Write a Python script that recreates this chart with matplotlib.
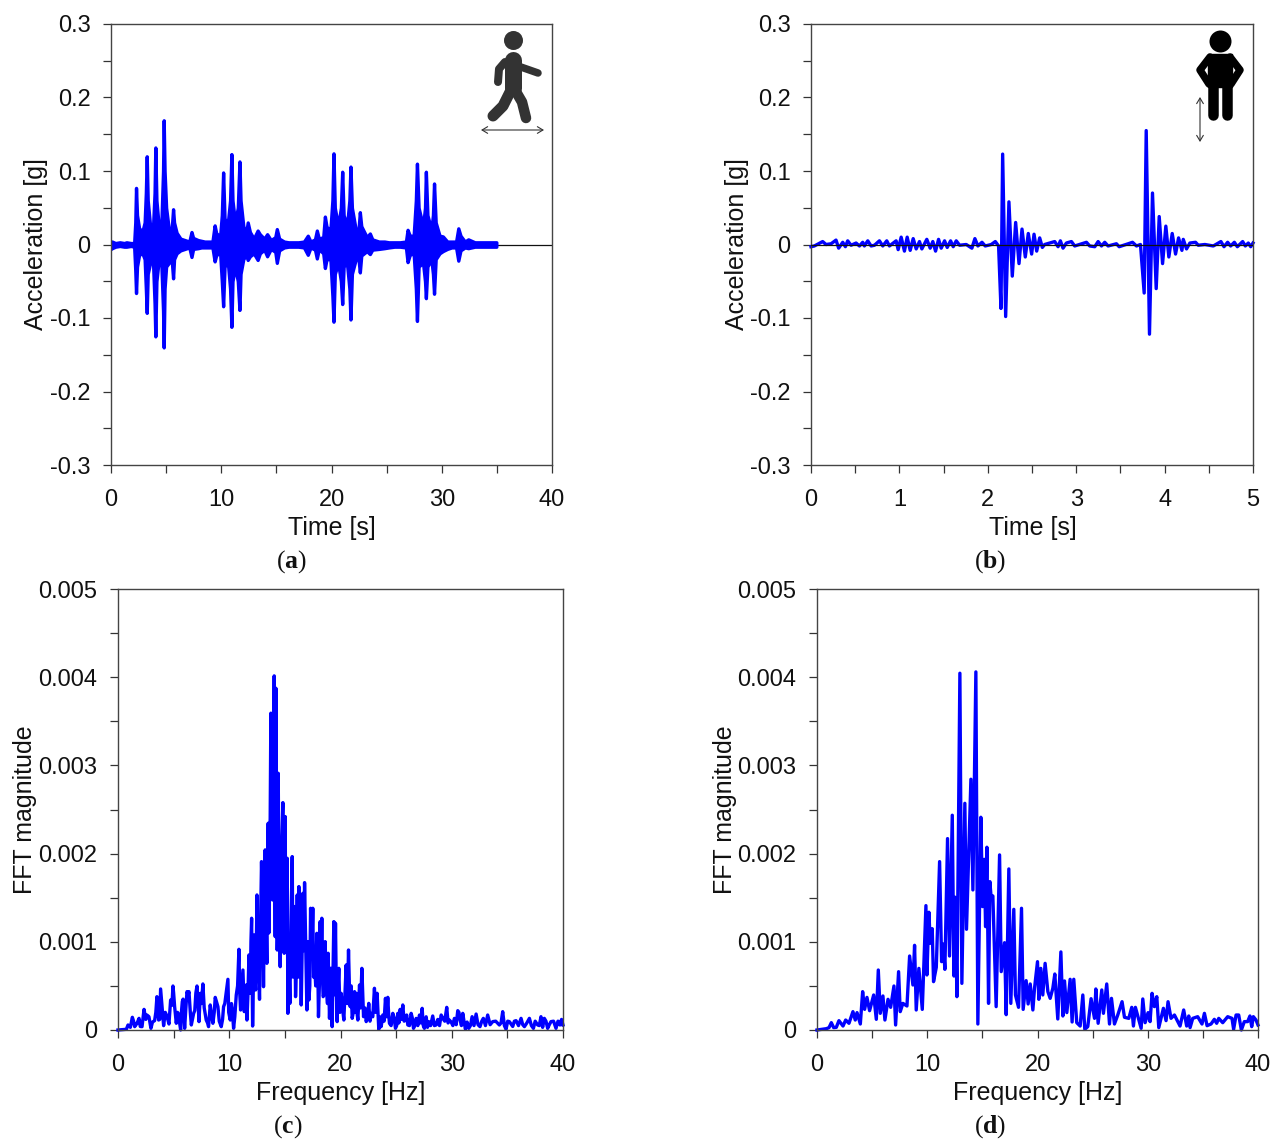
import numpy as np
import matplotlib
matplotlib.use("Agg")
import matplotlib.pyplot as plt
from matplotlib.lines import Line2D
from matplotlib.patches import Rectangle, FancyArrowPatch
from matplotlib.ticker import MultipleLocator, FuncFormatter

plt.rcParams['font.family'] = ['Liberation Sans', 'DejaVu Sans']
plt.rcParams['mathtext.fontset'] = 'custom'
plt.rcParams['mathtext.rm'] = 'Liberation Serif'
plt.rcParams['mathtext.bf'] = 'Liberation Serif:bold'

# (a) walking: envelope of the acceleration record
t_a = [0.0,0.1,0.4,0.8,1.2,1.4,1.8,2.1,2.2,2.27,2.36,2.55,2.85,3.05,3.16,3.24,3.33,3.55,3.8,3.95,4.02,4.12,4.3,4.55,4.72,4.78,4.86,5.0,5.25,5.5,5.63,5.72,5.95,6.3,6.7,7.1,7.3,7.45,7.9,8.2,8.5,8.9,9.2,9.4,9.55,9.9,10.05,10.17,10.3,10.6,10.8,10.92,11.02,11.25,11.5,11.65,11.75,12.0,12.25,12.4,12.6,12.95,13.3,13.5,13.9,14.16,14.5,14.9,15.04,15.25,15.7,16.1,16.6,17.0,17.5,17.85,18.1,18.5,18.67,18.85,19.25,19.4,19.55,19.9,20.08,20.18,20.3,20.6,20.85,20.97,21.1,21.4,21.62,21.72,21.85,22.2,22.45,22.57,22.7,23.2,23.48,23.7,24.3,24.8,25.2,25.7,26.2,26.75,26.9,27.1,27.45,27.65,27.75,27.9,28.3,28.48,28.56,28.7,29.05,29.2,29.3,29.45,29.8,30.1,30.5,30.9,31.3,31.5,31.7,32.1,32.4,33.0,33.5,34.0,34.5,34.95]
pos_a = [.004,.004,.002,.003,.002,.003,.002,.002,.03,.077,.04,.022,.018,.03,.07,.12,.06,.025,.02,.07,.132,.06,.03,.02,.1,.169,.1,.05,.02,.02,.048,.03,.016,.008,.006,.004,.017,.009,.006,.005,.004,.004,.004,.026,.015,.012,.04,.098,.035,.03,.06,.123,.06,.03,.05,.113,.06,.025,.015,.03,.017,.008,.019,.014,.008,.014,.006,.01,.021,.008,.004,.003,.003,.003,.004,.012,.004,.007,.019,.008,.01,.038,.024,.02,.06,.124,.05,.025,.05,.099,.04,.025,.06,.106,.05,.02,.02,.044,.025,.01,.015,.007,.004,.004,.003,.003,.003,.004,.02,.012,.012,.06,.11,.05,.025,.05,.099,.04,.02,.04,.083,.03,.012,.011,.004,.004,.004,.022,.012,.004,.007,.003,.003,.003,.003,.003]
neg_a = [-.006,-.005,-.003,-.002,-.003,-.003,-.002,-.003,-.035,-.066,-.03,-.014,-.012,-.02,-.06,-.093,-.04,-.025,-.02,-.08,-.125,-.05,-.025,-.02,-.09,-.14,-.06,-.03,-.025,-.02,-.046,-.02,-.012,-.008,-.006,-.004,-.017,-.006,-.005,-.004,-.004,-.004,-.004,-.023,-.014,-.012,-.05,-.084,-.03,-.025,-.06,-.112,-.05,-.03,-.05,-.089,-.04,-.02,-.014,-.021,-.016,-.012,-.021,-.012,-.007,-.016,-.006,-.01,-.025,-.008,-.004,-.003,-.003,-.003,-.004,-.014,-.004,-.007,-.019,-.006,-.012,-.032,-.02,-.02,-.07,-.105,-.04,-.025,-.05,-.081,-.03,-.025,-.06,-.102,-.04,-.02,-.02,-.038,-.015,-.009,-.013,-.007,-.006,-.005,-.004,-.003,-.003,-.004,-.024,-.014,-.012,-.06,-.104,-.03,-.025,-.05,-.073,-.03,-.02,-.04,-.067,-.02,-.012,-.009,-.006,-.004,-.004,-.022,-.008,-.004,-.005,-.003,-.003,-.003,-.003,-.003]

# (b) vertical jump
t_b = [0,.038,.132,.17,.227,.283,.313,.359,.389,.415,.453,.51,.548,.585,.604,.642,.68,.718,.774,.812,.857,.887,.963,.986,1.02,1.057,1.088,1.122,1.156,1.19,1.227,1.254,1.31,1.348,1.378,1.409,1.443,1.473,1.511,1.541,1.579,1.609,1.643,1.681,1.756,1.82,1.854,1.888,1.934,1.971,2.039,2.085,2.122,2.149,2.168,2.202,2.239,2.277,2.315,2.353,2.387,2.424,2.458,2.496,2.523,2.553,2.587,2.617,2.643,2.757,2.795,2.821,2.851,2.889,2.946,2.983,3.116,3.153,3.21,3.248,3.286,3.323,3.361,3.455,3.486,3.588,3.637,3.682,3.727,3.769,3.792,3.829,3.863,3.905,3.939,3.977,4.014,4.048,4.086,4.124,4.158,4.196,4.211,4.248,4.286,4.35,4.381,4.456,4.551,4.637,4.672,4.713,4.747,4.789,4.823,4.883,4.913,4.947,4.974,5.0]
acc_b = [-.003,-.002,.004,0,.001,.006,-.005,.003,-.003,.005,-.001,.002,-.002,.003,-.002,.005,-.002,-.001,.005,-.002,.005,-.002,.005,-.007,.010,-.009,.010,-.008,.008,-.006,.004,-.006,.007,-.005,.004,-.009,.007,-.005,.005,-.004,.005,-.003,.005,-.001,0,-.005,.008,-.002,.003,-.002,0,.004,-.002,-.087,.123,-.098,.058,-.043,.030,-.026,.021,-.017,.015,-.013,.014,-.009,.009,-.004,0,.004,-.003,.005,-.005,.002,.004,-.002,.003,-.002,-.003,.004,-.002,.003,-.002,.001,-.003,.001,.003,-.002,0,-.066,.155,-.122,.070,-.060,.038,-.026,.025,-.017,.015,-.013,.009,-.008,.007,-.006,.002,.003,-.001,0,-.002,.004,-.003,.003,-.002,.003,-.003,.004,-.002,.002,-.003,.002]

# (c) FFT of the walking record (main peaks and troughs)
f_c = [0,.75,.9,1.11,1.29,1.5,1.71,1.89,2.16,2.34,2.6,2.78,2.96,3.29,3.5,3.65,3.83,4.1,4.4,4.58,4.73,4.94,5.09,5.24,5.48,5.63,5.78,5.99,6.2,6.38,6.59,6.8,7.1,7.28,7.4,7.63,7.93,8.14,8.29,8.53,8.74,8.98,9.28,9.49,9.88,10.09,10.27,10.39,10.63,10.87,11.02,11.23,11.35,11.53,11.59,11.77,11.89,12.01,12.1,12.25,12.37,12.49,12.63,12.72,12.9,13.08,13.23,13.38,13.5,13.62,13.74,13.89,14.04,14.13,14.19,14.31,14.4,14.58,14.67,14.82,14.94,15.03,15.12,15.21,15.27,15.45,15.66,15.81,15.96,16.11,16.26,16.47,16.62,16.77,16.98,17.16,17.31,17.51,17.66,17.87,18.02,18.17,18.32,18.44,18.62,18.77,18.89,19.01,19.25,19.4,19.55,19.7,19.85,20.06,20.3,20.51,20.72,20.87,21.05,21.26,21.41,21.56,21.71,21.92,22.07,22.31,22.54,22.75,23.05,23.29,23.44,23.65,23.8,24.04,24.25,24.4,24.7,24.94,25.15,25.36,25.6,25.84,26.05,26.35,26.56,26.8,27.1,27.34,27.54,27.93,28.29,28.59,29.19,29.55,29.79,30.24,30.54,30.75,30.99,31.23,31.53,31.83,32.19,32.54,32.84,33.23,33.68,34.28,34.58,34.88,35.18,35.78,36.23,36.53,36.98,37.34,37.72,38.02,38.32,38.62,38.92,39.37,39.73,40]
mag_c = [0,.008,.057,.03,.144,.038,.076,.132,.038,.234,.17,.151,.019,.106,.378,.113,.465,.049,.159,.068,.34,.499,.265,.076,.17,0,.321,.019,.435,.435,.057,.189,.499,.095,.416,.522,.113,.038,.284,.076,.37,.265,.038,.265,.575,.113,.234,.019,.397,.915,.227,.68,.208,.51,.113,.851,.416,1.267,.045,1.078,.454,1.531,.794,.348,1.909,.491,2.042,.756,2.344,2.117,3.592,1.474,4.015,1.059,3.875,.907,2.911,.718,1.966,2.578,.87,2.42,1.399,1.947,.189,.302,1.966,.643,.378,1.531,1.626,.284,1.55,1.671,.227,.34,1.38,1.38,.794,1.096,.151,1.229,1.267,.378,1.002,.416,.87,.132,.038,1.229,1.21,.095,.699,.416,.113,.737,.907,.265,.132,.435,.416,.113,.51,.699,.151,.095,.302,.189,.473,.416,.008,.038,.17,.359,.37,.076,.189,.019,.189,.234,.284,.113,.057,.189,.019,.132,.17,.246,.019,.095,.159,.057,.132,.257,.113,.132,.219,.113,.189,.008,.019,.151,.181,.038,.132,.17,.095,.057,.208,.008,.095,.106,.132,.038,.132,.019,.057,.151,.132,.019,.095,.019,.057,.057]
# (c) smaller oscillations between them
f_c_fine = [1.4,2.0,2.5,3.1,3.4,3.75,4.25,4.85,5.0,5.35,5.55,5.7,5.85,6.1,6.3,6.5,6.9,7.0,7.2,7.5,7.75,8.05,8.4,8.65,8.85,9.1,9.4,9.6,9.75,9.95,10.2,10.5,10.75,10.95,11.15,11.45,11.68,11.95,12.18,12.3,12.43,12.56,12.8,13.0,13.15,13.3,13.44,13.56,13.68,13.8,13.95,14.08,14.25,14.35,14.48,14.62,14.72,14.88,14.98,15.08,15.18,15.35,15.55,15.73,15.88,16.03,16.2,16.37,16.55,16.7,16.88,17.07,17.24,17.42,17.58,17.77,17.95,18.1,18.25,18.38,18.53,18.7,18.83,18.95,19.13,19.32,19.47,19.62,19.78,19.95,20.18,20.4,20.62,20.8,20.96,21.15,21.33,21.48,21.63,21.8,22.0,22.2,22.43,22.65,22.9,23.17,23.37,23.55,23.72,23.92,24.15,24.32,24.55,24.82,25.05,25.25,25.48,25.72,25.95,26.2,26.45,26.68,26.95,27.22,27.44,27.7,27.82,28.1,28.44,28.75,28.9,29.05,29.37,29.67,29.95,30.1,30.4,30.65,30.87,31.1,31.38,31.68,32.0,32.36,32.7,33.03,33.45,33.95,34.43,34.73,35.03,35.48,35.63,36.0,36.38,36.75,37.16,37.5,37.87,38.17,38.47,38.77,39.15,39.55,39.87]
mag_c_fine = [.1,.04,.12,.09,.2,.12,.2,.28,.42,.2,.07,.2,.35,.25,.4,.2,.22,.42,.3,.3,.25,.08,.18,.2,.32,.1,.12,.3,.45,.2,.3,.15,.5,.4,.5,.3,.4,1.0,.6,.6,.9,1.0,1.1,1.3,1.3,1.3,1.6,1.1,2.4,1.5,1.9,2.5,2.0,1.2,1.5,1.1,2.1,1.2,1.6,.9,1.4,.8,1.2,.6,1.4,.7,.6,1.1,.9,.9,.9,1.0,.5,.9,.6,.5,.8,.5,.7,.6,.4,.6,.3,.5,.7,.6,.4,.5,.5,.2,.25,.4,.3,.5,.5,.2,.2,.2,.3,.25,.4,.25,.15,.1,.15,.2,.2,.15,.09,.1,.15,.2,.05,.14,.05,.08,.12,.1,.17,.05,.14,.05,.05,.08,.05,.15,.03,.05,.05,.12,.05,.17,.1,.08,.09,.05,.06,.2,.05,.1,.09,.05,.05,.06,.1,.05,.06,.1,.08,.05,.1,.04,.1,.05,.06,.08,.05,.1,.05,.03,.1,.06,.1,.1,.12]

# (d) FFT of the jump record
f_d = [0,.85,1.09,1.3,1.51,1.75,1.99,2.36,2.6,2.9,3.26,3.47,3.63,3.93,4.14,4.32,4.53,4.77,5.14,5.38,5.56,5.74,5.98,6.16,6.44,6.68,6.98,7.13,7.4,7.55,7.79,8.16,8.4,8.7,8.85,9.0,9.24,9.55,9.88,9.97,10.15,10.27,10.45,10.57,10.82,11.12,11.3,11.45,11.6,11.84,12.02,12.27,12.42,12.54,12.69,12.96,13.14,13.41,13.56,13.96,14.14,14.41,14.59,14.86,15.02,15.17,15.29,15.41,15.56,15.68,15.8,15.95,16.25,16.56,16.71,17.01,17.16,17.4,17.58,17.85,18.0,18.28,18.55,18.7,18.97,19.15,19.34,19.58,19.73,20.0,20.12,20.3,20.48,20.69,20.94,21.15,21.39,21.57,21.84,22.12,22.3,22.45,22.66,22.96,23.14,23.29,23.56,23.87,24.11,24.29,24.56,24.86,25.17,25.29,25.5,25.83,25.98,26.28,26.53,26.71,26.98,27.28,27.67,27.89,28.28,28.55,28.7,28.88,29.4,29.55,29.76,30.03,30.21,30.39,30.6,30.82,31.0,31.42,31.66,31.84,32.11,32.42,32.93,33.26,33.53,33.72,33.84,34.08,34.53,34.92,35.14,35.38,35.74,36.04,36.25,36.44,36.8,37.25,37.64,37.79,38.01,38.25,38.49,38.76,39.06,39.27,39.43,39.58,39.82,40]
mag_d = [0,.015,.027,.083,.027,.03,.106,.045,.113,.076,.208,.113,.197,.068,.435,.234,.37,.219,.397,.121,.680,.189,.386,.113,.348,.257,.499,.057,.661,.208,.302,.272,.839,.510,.960,.227,.699,.234,1.41,.624,1.335,.983,1.149,.548,.711,1.909,.775,.975,.688,2.170,.839,2.435,.612,1.505,.378,4.045,.529,2.570,1.142,2.843,1.588,4.06,.068,2.412,1.399,1.935,1.172,2.072,.302,1.682,1.493,1.520,.265,1.985,.662,.990,.174,1.826,.302,1.368,.397,.257,1.380,.234,.560,.295,.522,.227,.473,.775,.348,.699,.397,.756,.435,.359,.473,.635,.125,.885,.159,.556,.197,.575,.091,.575,.083,.045,.397,.008,.038,.355,.132,.465,.076,.454,.189,.522,.068,.359,.068,.170,.321,.144,.132,.257,.045,.257,.019,.352,.083,.197,.095,.416,.265,.378,.027,.246,.106,.321,.132,.170,.045,.227,.045,.159,.027,.132,.151,.068,.189,.049,.068,.121,.076,.132,.083,.151,.132,.008,.170,.170,0,.095,.095,.159,.038,.151,.113,.057]

BLUE = '#0000FF'
W, H = 1271, 1140
fig = plt.figure(figsize=(W/100, H/100), dpi=100, facecolor='white')

def make_axes(x0, x1, y0, y1):
    return fig.add_axes([x0/W, 1-y1/H, (x1-x0)/W, (y1-y0)/H])

def style(ax, xlim, ylim, xmaj, xmin, ymaj, ymin, xlabel, ylabel, yfmt, xlab_xy, ylab_x, box):
    x0, x1, y0, y1 = box
    ax.set_xlim(*xlim); ax.set_ylim(*ylim)
    ax.xaxis.set_major_locator(MultipleLocator(xmaj)); ax.xaxis.set_minor_locator(MultipleLocator(xmin))
    ax.yaxis.set_major_locator(MultipleLocator(ymaj)); ax.yaxis.set_minor_locator(MultipleLocator(ymin))
    ax.yaxis.set_major_formatter(FuncFormatter(yfmt))
    ax.xaxis.set_major_formatter(FuncFormatter(lambda v, p: f'{v:g}'))
    ax.tick_params(which='both', direction='out', length=5.8, width=0.9, color='#333333', labelcolor='#111111')
    ax.tick_params(axis='x', which='major', labelsize=17, pad=11.5)
    ax.tick_params(axis='y', which='major', labelsize=17, pad=9)
    for s in ax.spines.values():
        s.set_linewidth(1.0); s.set_color('#444444')
    ax.set_xlabel(xlabel, fontsize=18, color='#111111', va='center')
    ax.set_ylabel(ylabel, fontsize=18, color='#111111', va='center')
    ax.xaxis.set_label_coords((xlab_xy[0]-x0)/(x1-x0), (y1-xlab_xy[1])/(y1-y0))
    ax.yaxis.set_label_coords((ylab_x-x0)/(x1-x0), 0.5)

acc_fmt = lambda v, p: '0' if abs(v) < 1e-9 else f'{v:.1f}'
fft_fmt = lambda v, p: '0' if abs(v) < 1e-9 else f'{v:.3f}'

box_a = (111, 552, 24, 465); box_b = (811, 1253, 24, 465)
box_c = (118, 563, 589, 1030); box_d = (817, 1258, 589, 1030)
ax_a, ax_b, ax_c, ax_d = [make_axes(*b) for b in (box_a, box_b, box_c, box_d)]

LW = 2.4
ax_a.axhline(0, color='#111111', lw=0.9, zorder=1)
# the record is so dense that it reads as a solid band between its envelopes
ax_a.fill_between(t_a, neg_a, pos_a, color=BLUE, lw=LW, joinstyle='round', zorder=2)
ax_b.axhline(0, color='#111111', lw=0.9, zorder=3)
ax_b.plot(t_b, acc_b, color=BLUE, lw=LW, solid_joinstyle='round', zorder=2, clip_on=False)

f_all = np.array(f_c + f_c_fine)
m_all = np.array(mag_c + mag_c_fine)
order = np.argsort(f_all)
ax_c.plot(f_all[order], m_all[order]*1e-3, color=BLUE, lw=LW, solid_joinstyle='round', clip_on=False)
ax_d.plot(f_d, np.array(mag_d)*1e-3, color=BLUE, lw=LW, solid_joinstyle='round', clip_on=False)

style(ax_a, (0, 40), (-.3, .3), 10, 5, .1, .05, 'Time [s]', 'Acceleration [g]', acc_fmt, (332, 528), 36, box_a)
style(ax_b, (0, 5), (-.3, .3), 1, .5, .1, .05, 'Time [s]', 'Acceleration [g]', acc_fmt, (1033, 528), 737, box_b)
style(ax_c, (0, 40), (0, .005), 10, 5, .001, .0005, 'Frequency [Hz]', 'FFT magnitude', fft_fmt, (341, 1093), 25, box_c)
style(ax_d, (0, 40), (0, .005), 10, 5, .001, .0005, 'Frequency [Hz]', 'FFT magnitude', fft_fmt, (1038, 1093), 725, box_d)

for txt, x, y in [('a', 291, 562), ('b', 990, 562), ('c', 288, 1127), ('d', 990, 1127)]:
    fig.text(x/W, 1-y/H, rf'($\mathbf{{{txt}}}$)', fontsize=18.5, family='Liberation Serif',
             ha='center', va='center', color='#111111')

# pictograms, placed in figure pixels
px = lambda x, y: (x/W, 1-y/H)
def poly(points, width, color):
    xs, ys = zip(*[px(*p) for p in points])
    fig.add_artist(Line2D(xs, ys, transform=fig.transFigure, color=color, lw=width*0.72,
                          solid_capstyle='round', solid_joinstyle='round', zorder=5))
def head(x, y, r, color):
    fig.add_artist(Line2D([x/W], [1-y/H], transform=fig.transFigure, marker='o', ms=2*r*0.72,
                          mfc=color, mec=color, mew=0, zorder=5))
def arrow(a, b):
    fig.add_artist(FancyArrowPatch(px(*a), px(*b), transform=fig.transFigure, arrowstyle='<->,head_length=4,head_width=2.4',
                                   lw=0.8, color='#333333', shrinkA=0, shrinkB=0, zorder=5))

G = '#333333'
head(513, 40, 9.5, G)
poly([(513, 60), (513, 88)], 17, G)
poly([(505, 62), (499, 69), (498, 82)], 8, G)
poly([(518, 66), (538, 73)], 7.5, G)
poly([(511, 90), (503, 106), (493, 116)], 11, G)
poly([(515, 90), (522, 102), (526, 118)], 10.5, G)
arrow((481, 130), (544, 130))

K = '#000000'
head(1220, 41, 11, K)
fig.add_artist(Rectangle(px(1208, 87), 24/W, 33/H, transform=fig.transFigure, color=K, zorder=5))
poly([(1213, 87), (1213, 115)], 10.5, K)
poly([(1227, 87), (1227, 115)], 10.5, K)
poly([(1210, 57), (1200, 70), (1209, 84)], 7.5, K)
poly([(1230, 57), (1240, 70), (1231, 84)], 7.5, K)
arrow((1200, 97), (1200, 142))

fig.savefig('out.png', dpi=100)
